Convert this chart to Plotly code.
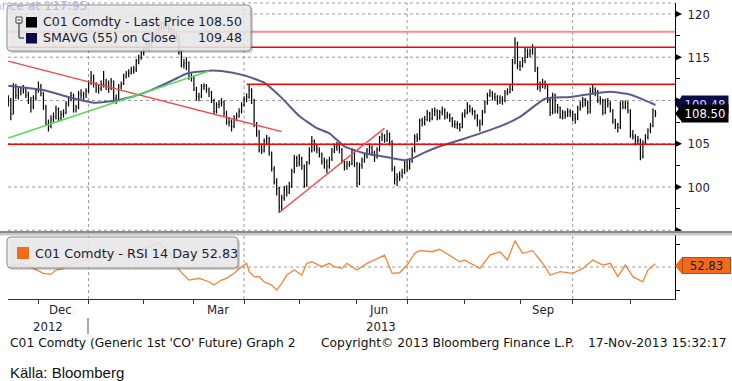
import plotly.graph_objects as go
import pandas as pd

# ---------------- data ----------------
HOLIDAYS = ["2012-12-25", "2013-01-01", "2013-03-29"]
bar_dates = [d.strftime("%Y-%m-%d") for d in pd.bdate_range("2012-11-15", "2013-11-15")
             if d.strftime("%Y-%m-%d") not in HOLIDAYS]

price_open = [
    109.6, 110.2, 108.4, 111.5, 110.6, 111.0, 111.3, 111.4, 110.6, 110.0,
    109.3, 110.3, 111.1, 111.6, 110.8, 109.2, 107.3, 107.0, 107.9, 108.1,
    109.0, 107.9, 108.4, 108.6, 109.6, 110.2, 110.6, 108.9, 109.2, 110.8,
    110.6, 110.7, 111.1, 112.0, 112.7, 111.9, 111.3, 111.4, 111.9, 111.8,
    112.0, 111.4, 112.2, 110.3, 110.0, 111.6, 111.9, 112.8, 113.1, 113.2,
    113.4, 113.6, 114.6, 115.0, 115.4, 116.0, 116.8, 116.2, 117.0, 117.6,
    117.9, 118.6, 118.4, 118.9, 118.6, 118.2, 117.9, 117.6, 117.4, 115.6,
    114.1, 114.3, 114.4, 112.7, 112.6, 111.3, 110.4, 110.5, 111.6, 111.7,
    111.3, 110.9, 110.0, 108.7, 109.5, 109.6, 109.8, 108.5, 107.5, 107.5,
    107.0, 107.9, 108.2, 108.7, 109.5, 110.1, 110.4, 111.2, 110.0, 107.2,
    106.3, 104.3, 104.2, 105.3, 105.6, 103.9, 102.1, 100.6, 99.8, 97.7,
    98.7, 99.7, 99.4, 100.1, 101.8, 103.3, 102.8, 103.3, 102.4, 100.2,
    102.8, 104.2, 105.3, 104.4, 104.3, 103.7, 103.0, 102.9, 102.4, 103.2,
    104.2, 104.6, 104.8, 104.3, 103.0, 102.4, 102.6, 102.7, 104.2, 102.6,
    100.4, 102.5, 103.1, 103.6, 104.2, 104.6, 104.0, 103.5, 104.3, 105.7,
    105.9, 105.5, 106.1, 105.2, 102.1, 100.9, 101.2, 101.3, 101.7, 102.8,
    102.2, 103.0, 104.2, 105.8, 105.6, 107.7, 107.4, 107.8, 108.5, 107.9,
    108.8, 108.8, 108.0, 108.6, 108.9, 108.1, 108.3, 107.9, 107.2, 107.2,
    107.2, 106.9, 108.3, 108.6, 109.3, 108.9, 108.7, 108.2, 107.4, 107.3,
    108.7, 109.8, 110.6, 110.9, 110.4, 110.4, 109.9, 110.3, 110.0, 110.9,
    111.0, 111.3, 114.4, 116.6, 114.0, 114.0, 114.6, 115.7, 115.4, 115.7,
    116.1, 113.7, 111.5, 111.8, 112.0, 111.7, 110.1, 108.6, 110.6, 108.8,
    109.2, 108.1, 108.6, 108.3, 108.7, 108.6, 108.4, 107.9, 109.1, 109.5,
    110.1, 109.7, 108.7, 111.1, 111.3, 111.0, 110.0, 110.0, 108.6, 109.9,
    109.6, 108.9, 107.6, 107.2, 106.9, 109.6, 109.3, 109.7, 108.8, 106.0,
    105.8, 105.3, 105.4, 103.5, 105.1, 105.8, 106.5, 107.1, 108.8]

price_high = [
    110.6, 110.3, 112.0, 111.9, 111.5, 111.6, 111.8, 111.6, 111.0, 110.4,
    110.6, 111.4, 112.2, 111.9, 111.0, 109.5, 107.8, 108.3, 108.6, 109.4,
    109.2, 108.8, 109.0, 109.9, 110.5, 111.0, 110.8, 109.5, 111.1, 111.3,
    111.0, 111.4, 112.3, 113.4, 113.0, 112.1, 111.9, 112.3, 113.4, 112.5,
    112.3, 112.6, 112.3, 110.7, 111.9, 112.2, 113.1, 113.4, 113.6, 113.9,
    114.0, 114.8, 115.3, 115.7, 116.3, 117.1, 117.0, 117.3, 117.9, 118.3,
    119.0, 119.1, 119.2, 119.1, 118.9, 118.5, 118.3, 118.0, 117.6, 115.9,
    114.8, 115.0, 114.5, 113.3, 112.9, 111.6, 110.9, 111.9, 112.0, 111.9,
    111.5, 111.1, 110.2, 109.8, 110.0, 110.3, 110.0, 108.8, 108.1, 107.8,
    108.3, 108.6, 109.1, 109.8, 110.5, 110.8, 111.8, 111.4, 110.2, 107.5,
    106.6, 105.0, 105.6, 106.0, 105.8, 104.1, 102.4, 101.0, 100.0, 99.1,
    100.1, 100.2, 100.6, 102.1, 103.7, 103.6, 103.8, 103.5, 102.6, 103.0,
    104.6, 105.9, 105.5, 104.9, 104.6, 104.0, 103.4, 103.2, 103.5, 104.5,
    105.0, 105.2, 105.1, 104.5, 103.2, 103.0, 103.0, 104.5, 104.4, 102.9,
    102.8, 103.4, 103.9, 104.5, 104.9, 104.8, 104.2, 104.6, 105.9, 106.3,
    106.1, 106.6, 106.3, 105.4, 102.4, 101.6, 101.8, 102.1, 103.1, 103.1,
    103.3, 104.6, 106.1, 106.2, 107.9, 108.0, 108.2, 108.9, 108.7, 109.1,
    109.2, 109.0, 108.9, 109.3, 109.1, 108.7, 108.5, 108.1, 107.7, 107.6,
    107.4, 108.6, 109.0, 109.8, 109.5, 109.2, 108.9, 108.4, 107.8, 108.9,
    110.0, 110.9, 111.3, 111.1, 110.9, 110.6, 110.6, 110.5, 111.2, 111.4,
    111.8, 114.8, 117.3, 116.8, 114.6, 115.0, 116.1, 116.0, 116.0, 116.5,
    116.2, 113.9, 112.2, 112.5, 112.3, 111.9, 110.3, 110.9, 110.8, 109.6,
    109.3, 108.9, 108.8, 109.1, 109.0, 108.8, 108.5, 109.4, 109.9, 110.4,
    110.3, 110.0, 111.5, 111.8, 111.5, 111.2, 110.5, 110.2, 110.2, 110.3,
    109.9, 109.0, 107.9, 107.4, 109.9, 110.0, 110.0, 109.9, 109.0, 106.6,
    106.1, 105.9, 105.6, 105.4, 106.1, 106.8, 107.4, 109.1, 108.9]

price_low = [
    109.3, 107.7, 108.4, 110.2, 110.1, 110.6, 110.8, 110.3, 109.6, 108.6,
    109.0, 110.0, 110.9, 110.5, 108.9, 107.1, 106.4, 106.8, 107.5, 107.8,
    107.6, 107.6, 108.0, 108.4, 109.3, 109.9, 108.6, 108.6, 109.0, 110.2,
    109.9, 110.3, 110.9, 111.8, 111.5, 110.9, 110.8, 111.1, 111.5, 111.2,
    110.9, 111.2, 110.0, 109.6, 109.9, 111.3, 111.8, 112.5, 112.7, 113.0,
    113.1, 113.3, 114.2, 114.7, 115.2, 115.8, 115.7, 116.0, 116.7, 117.2,
    117.6, 118.0, 118.2, 118.2, 117.8, 117.5, 117.2, 116.9, 115.3, 113.8,
    113.7, 113.5, 112.4, 112.2, 111.1, 110.0, 109.9, 110.3, 111.2, 110.9,
    110.4, 109.7, 108.4, 108.5, 109.1, 109.3, 108.2, 107.2, 107.0, 106.4,
    106.8, 107.6, 108.0, 108.5, 109.3, 109.8, 110.2, 109.6, 106.9, 105.8,
    104.0, 103.8, 104.0, 104.9, 103.6, 101.8, 100.3, 99.0, 97.0, 97.2,
    98.4, 98.9, 99.2, 99.9, 101.6, 102.3, 102.4, 102.0, 99.9, 100.0,
    102.6, 104.0, 104.1, 103.9, 103.4, 102.6, 102.1, 101.6, 102.1, 103.0,
    103.9, 104.2, 103.9, 102.7, 101.9, 102.0, 102.3, 102.5, 102.3, 100.0,
    100.2, 102.1, 102.8, 103.3, 103.8, 103.6, 102.9, 103.3, 104.1, 105.3,
    105.1, 105.2, 104.8, 101.8, 100.3, 100.1, 100.7, 101.0, 101.5, 101.8,
    102.0, 102.8, 104.0, 105.2, 105.4, 107.0, 107.1, 107.6, 107.5, 107.7,
    108.2, 107.7, 107.8, 108.3, 107.8, 107.9, 107.5, 106.9, 106.8, 106.7,
    106.4, 106.8, 108.0, 108.4, 108.6, 108.3, 107.8, 107.0, 106.4, 107.1,
    108.5, 109.5, 110.4, 110.0, 110.0, 109.5, 109.6, 109.5, 109.8, 110.6,
    110.8, 111.1, 114.2, 113.6, 113.4, 113.8, 114.3, 114.9, 115.0, 115.3,
    113.3, 111.2, 111.0, 111.4, 111.3, 109.7, 108.2, 108.4, 108.5, 108.5,
    107.9, 107.8, 107.9, 108.1, 108.1, 107.6, 107.3, 107.7, 108.8, 109.2,
    109.3, 108.4, 108.5, 110.7, 110.5, 109.7, 109.5, 108.3, 108.4, 109.2,
    108.6, 107.3, 106.7, 106.3, 106.7, 109.0, 109.0, 108.5, 105.7, 105.5,
    104.8, 104.9, 103.1, 103.3, 104.9, 105.5, 106.2, 106.9, 108.1]

price_close = [
    110.2, 108.4, 111.5, 110.6, 111.0, 111.3, 111.4, 110.6, 110.0, 109.3,
    110.3, 111.1, 111.6, 110.8, 109.2, 107.3, 107.0, 107.9, 108.1, 109.0,
    107.9, 108.4, 108.6, 109.6, 110.2, 110.6, 108.9, 109.2, 110.8, 110.6,
    110.7, 111.1, 112.0, 112.7, 111.9, 111.3, 111.4, 111.9, 111.8, 112.0,
    111.4, 112.2, 110.3, 110.0, 111.6, 111.9, 112.8, 113.1, 113.2, 113.4,
    113.6, 114.6, 115.0, 115.4, 116.0, 116.8, 116.2, 117.0, 117.6, 117.9,
    118.6, 118.4, 118.9, 118.6, 118.2, 117.9, 117.6, 117.4, 115.6, 114.1,
    114.3, 114.4, 112.7, 112.6, 111.3, 110.4, 110.5, 111.6, 111.7, 111.3,
    110.9, 110.0, 108.7, 109.5, 109.6, 109.8, 108.5, 107.5, 107.5, 107.0,
    107.9, 108.2, 108.7, 109.5, 110.1, 110.4, 111.2, 110.0, 107.2, 106.3,
    104.3, 104.2, 105.3, 105.6, 103.9, 102.1, 100.6, 99.8, 97.7, 98.7,
    99.7, 99.4, 100.1, 101.8, 103.3, 102.8, 103.3, 102.4, 100.2, 102.8,
    104.2, 105.3, 104.4, 104.3, 103.7, 103.0, 102.9, 102.4, 103.2, 104.2,
    104.6, 104.8, 104.3, 103.0, 102.4, 102.6, 102.7, 104.2, 102.6, 100.4,
    102.5, 103.1, 103.6, 104.2, 104.6, 104.0, 103.5, 104.3, 105.7, 105.9,
    105.5, 106.1, 105.2, 102.1, 100.9, 101.2, 101.3, 101.7, 102.8, 102.2,
    103.0, 104.2, 105.8, 105.6, 107.7, 107.4, 107.8, 108.5, 107.9, 108.8,
    108.8, 108.0, 108.6, 108.9, 108.1, 108.3, 107.9, 107.2, 107.2, 107.2,
    106.9, 108.3, 108.6, 109.3, 108.9, 108.7, 108.2, 107.4, 107.3, 108.7,
    109.8, 110.6, 110.9, 110.4, 110.4, 109.9, 110.3, 110.0, 110.9, 111.0,
    111.3, 114.4, 116.6, 114.0, 114.0, 114.6, 115.7, 115.4, 115.7, 116.1,
    113.7, 111.5, 111.8, 112.0, 111.7, 110.1, 108.6, 110.6, 108.8, 109.2,
    108.1, 108.6, 108.3, 108.7, 108.6, 108.4, 107.9, 109.1, 109.5, 110.1,
    109.7, 108.7, 111.1, 111.3, 111.0, 110.0, 110.0, 108.6, 109.9, 109.6,
    108.9, 107.6, 107.2, 106.9, 109.6, 109.3, 109.7, 108.8, 106.0, 105.8,
    105.3, 105.4, 103.5, 105.1, 105.8, 106.5, 107.1, 108.8, 108.5]

# SMAVG(55) at these bars
sma_bar = [0, 14, 24, 34, 41, 49, 57, 66, 71, 80, 85, 94, 102, 109, 116, 123, 128, 134, 142, 150,
           158, 161, 166, 171, 182, 196, 204, 214, 224, 232, 240, 247, 252, 258]
sma_value = [111.7, 111.2, 110.4, 109.75, 109.9, 110.4, 111.2, 112.4, 113.1, 113.45,
             113.4, 112.9, 112.06, 110.3, 108.2, 106.8, 106.2, 104.7, 103.9, 103.5,
             103.1, 103.3, 104.0, 104.6, 105.6, 107.0, 108.1, 110.2, 110.4, 110.75,
             111.0, 110.75, 110.25, 109.48]

# RSI 14 at these bars
rsi_bar = [0, 5, 10, 14, 17, 19, 22, 24, 30, 37, 41, 48, 53, 60, 64, 67, 70, 72, 76, 80,
           82, 85, 87, 90, 93, 95, 96, 98, 100, 102, 105, 107, 109, 111, 114, 117, 119, 121, 125, 128,
           130, 133, 135, 139, 143, 147, 150, 153, 156, 159, 162, 164, 169, 172, 177, 180, 182, 188, 192, 196,
           199, 202, 205, 209, 212, 214, 216, 220, 225, 229, 233, 237, 240, 243, 246, 249, 253, 255, 258]
rsi_value = [50.3, 53.2, 48.8, 44.5, 43.6, 47.4, 48.8, 51.7, 56.1, 60.4,
             61.9, 60.4, 64.8, 70.6, 63.3, 50.3, 43.0, 38.7, 40.2, 37.2,
             34.3, 38.7, 40.2, 44.5, 50.3, 53.2, 45.9, 41.6, 41.6, 37.2,
             34.3, 30.0, 35.8, 43.0, 47.4, 43.0, 53.2, 54.6, 50.3, 53.2,
             50.3, 48.8, 53.2, 47.4, 53.2, 57.6, 60.4, 44.5, 45.0, 51.7,
             61.9, 64.2, 63.3, 65.4, 59.0, 54.6, 56.0, 48.8, 60.4, 63.3,
             56.1, 72.9, 61.9, 64.2, 56.1, 50.3, 43.0, 45.9, 44.5, 48.8,
             56.1, 51.7, 53.2, 41.6, 51.7, 41.6, 37.2, 47.4, 52.83]

full_levels = [116.15, 104.95]
top_level = 117.95
partial_level = 111.87
partial_level_start_bar = 95
trend_down = [(0, 114.55), (109, 106.4)]
trend_green = [(0, 105.66), (80, 113.4)]
trend_up = [(108, 97.05), (150, 106.8)]

main_ticks = [100, 105, 110, 115, 120]
main_grid = [95, 100, 105, 110, 115, 120]
main_minor = [97.5, 102.5, 107.5, 112.5, 117.5]
month_starts = ["2012-12-03", "2013-01-02", "2013-02-01", "2013-03-01", "2013-04-01", "2013-05-01",
                "2013-06-03", "2013-07-01", "2013-08-01", "2013-09-02", "2013-10-01", "2013-11-01"]
quarter_starts = ["2013-01-02", "2013-04-01", "2013-07-01", "2013-10-01"]
month_labels = [("2012-12-14", "Dec"), ("2013-03-14 12:00", "Mar"), ("2013-06-13 12:00", "Jun"), ("2013-09-13", "Sep")]

assert len(price_open) == len(price_high) == len(price_low) == len(price_close) == len(bar_dates)

# ---------------- geometry helpers ----------------
PL, PR, PT, PB = 8, 675, 3, 299
def X(px): return (px - PL) / (PR - PL)
def Y(py): return (PB - py) / (PB - PT)

FONT = "DejaVu Sans Condensed, DejaVu Sans, sans-serif"
FONT_W = "DejaVu Sans, sans-serif"
TXT = "#1c1c34"
X_RANGE = ["2012-11-14 21:00", "2013-11-26 19:00"]
RB = [dict(bounds=["sat", "mon"]), dict(values=HOLIDAYS)]

fig = go.Figure()
fig.add_trace(go.Ohlc(x=bar_dates, open=price_open, high=price_high, low=price_low, close=price_close,
                      increasing=dict(line=dict(color="#000000", width=1.2)),
                      decreasing=dict(line=dict(color="#000000", width=1.2)),
                      tickwidth=0.3, xaxis="x", yaxis="y", showlegend=False, hoverinfo="skip"))
fig.add_trace(go.Scatter(x=[bar_dates[i] for i in sma_bar], y=sma_value, mode="lines",
                         line=dict(color="#5a5a8e", width=2, shape="spline", smoothing=0.5),
                         xaxis="x", yaxis="y", showlegend=False, hoverinfo="skip"))
fig.add_trace(go.Scatter(x=[bar_dates[i] for i in rsi_bar], y=rsi_value, mode="lines",
                         line=dict(color="#f0863a", width=1.3),
                         xaxis="x2", yaxis="y2", showlegend=False, hoverinfo="skip"))

shapes = []
def ln(x0, y0, x1, y1, xref, yref, color, width, dash="solid", layer="above"):
    shapes.append(dict(type="line", x0=x0, y0=y0, x1=x1, y1=y1, xref=xref, yref=yref,
                       line=dict(color=color, width=width, dash=dash), layer=layer))

def path(d, fill, line_color=None, line_width=0, xref="paper", yref="paper", layer="above"):
    shapes.append(dict(type="path", path=d, xref=xref, yref=yref, fillcolor=fill,
                       line=dict(color=line_color or fill, width=line_width), layer=layer))

def rect_px(x0, y0, x1, y1, fill, line_color=None, line_width=0):
    shapes.append(dict(type="rect", x0=X(x0), x1=X(x1), y0=Y(y1), y1=Y(y0), xref="paper", yref="paper",
                       fillcolor=fill, line=dict(color=line_color or fill, width=line_width), layer="above"))

def rrect(x0, y0, x1, y1, r):
    return (f"M {X(x0+r)},{Y(y0)} L {X(x1-r)},{Y(y0)} Q {X(x1)},{Y(y0)} {X(x1)},{Y(y0+r)} "
            f"L {X(x1)},{Y(y1-r)} Q {X(x1)},{Y(y1)} {X(x1-r)},{Y(y1)} L {X(x0+r)},{Y(y1)} "
            f"Q {X(x0)},{Y(y1)} {X(x0)},{Y(y1-r)} L {X(x0)},{Y(y0+r)} Q {X(x0)},{Y(y0)} {X(x0+r)},{Y(y0)} Z")

GRID = "#9a9a9a"
for v in main_grid:
    ln(0, v, 1, v, "paper", "y", GRID, 1, "dot", "below")
ln(0, 1, 1, 1, "paper", "paper", GRID, 1, "dot", "below")
ln(0, 50, 1, 50, "paper", "y2", GRID, 1, "dot", "below")
for d in quarter_starts:
    ln(d, 0, d, 1, "x", "paper", GRID, 1, "dot", "below")

# level lines and trend lines
ln(0, top_level, 1, top_level, "paper", "y", "#ff8a8a", 2)
for v in full_levels:
    ln(0, v, 1, v, "paper", "y", "#ff0000", 1.5)
ln(bar_dates[partial_level_start_bar], partial_level, X_RANGE[1], partial_level, "x", "y", "#ff0000", 1.5)
for (a, b), col in [(trend_down, "#f24a4a"), (trend_green, "#55dd55"), (trend_up, "#f25050")]:
    ln(bar_dates[a[0]], a[1], bar_dates[b[0]], b[1], "x", "y", col, 1.5)

# panel separator
rect_px(0, 231, 732, 233, "#8a8a8a")
rect_px(0, 233, 732, 235.5, "#c6c6c6")

# legend boxes
path(rrect(9, 7, 253, 53, 4), "rgba(0,0,0,0.18)")
path(rrect(7, 5, 251, 51, 4), "rgba(236,236,236,0.86)", "#8c8c8c", 1)
path(rrect(9, 239, 240, 270, 4), "rgba(0,0,0,0.18)")
path(rrect(7, 237, 238, 268, 4), "rgba(236,236,236,0.86)", "#8c8c8c", 1)
rect_px(16, 17, 22, 23, "#ffffff", "#404040", 1)
ln(X(17.5), Y(20), X(20.5), Y(20), "paper", "paper", "#202020", 1)
ln(X(19), Y(23), X(19), Y(38), "paper", "paper", "#202020", 1)
ln(X(19), Y(38), X(24), Y(38), "paper", "paper", "#202020", 1)
rect_px(26, 17, 37, 27.5, "#000000")
rect_px(26, 33, 37, 43.5, "#0b0b4a")
rect_px(17, 247, 29, 259, "#f26a1b")

# arrow ticks on the price axis
dv = 3.5 / 8.65
for v in main_grid:
    path(f"M 1,{v+dv} L {X(682)},{v} L 1,{v-dv} Z", "#000000", yref="y")

# pointer tips for value boxes
for yc, col in [(104.5, "#0b0b4a"), (113.5, "#000000"), (265.7, "#f26a1b")]:
    path(f"M {X(675)},{Y(yc)} L {X(682)},{Y(yc-8.5)} L {X(682)},{Y(yc+8.5)} Z", col)

ann = []
def txt(x, y, s, size=12, color=TXT, xanchor="left", xref="paper", family=FONT, **kw):
    ann.append(dict(x=x, y=y, text=s, xref=xref, yref="paper", xanchor=xanchor, yanchor="middle",
                    showarrow=False, font=dict(family=family, size=size, color=color), **kw))

txt(X(89), Y(6), "Resistance at 117.95", color="#b4b4e0", xanchor="right", family=FONT_W, size=12.4)
txt(X(41), Y(22), "C01 Comdty - Last Price", family=FONT_W, size=12.6)
txt(X(244), Y(22), "108.50", xanchor="right", family=FONT_W, size=12.6)
txt(X(41), Y(38), "SMAVG (55) on Close", family=FONT_W, size=12.6)
txt(X(244), Y(38), "109.48", xanchor="right", family=FONT_W, size=12.6)
txt(X(33), Y(253.5), "C01 Comdty - RSI 14 Day 52.83", family=FONT_W, size=12.8)

# value boxes (black one drawn after the navy one so it overlaps it)
txt(X(704.5), Y(104.5), "109.48", size=13, color="#d8d8ff", xanchor="center",
    bgcolor="#0b0b4a", width=46, height=17, borderpad=0)
txt(X(704.5), Y(113.5), "108.50", size=13, color="#ffffff", xanchor="center",
    bgcolor="#000000", width=46, height=17, borderpad=0)
txt(X(706), Y(265.7), "52.83", size=13, color="#1a1a1a", xanchor="center",
    bgcolor="#f26a1b", bordercolor="#b84a10", borderwidth=1, width=47, height=15, borderpad=0)

for d, s in month_labels:
    txt(d, Y(310), s, size=13, xanchor="center", xref="x2")
txt(X(48), Y(326), "2012", size=13, xanchor="center")
txt(X(381), Y(326), "2013", size=13, xanchor="center")
ln(X(88), Y(318), X(88), Y(334), "paper", "paper", "#555555", 1)

txt(X(8), Y(343), "C01 Comdty (Generic 1st 'CO' Future) Graph 2", size=12.3, color="#111111", family=FONT_W)
txt(X(319), Y(343), "Copyright\u00a9 2013 Bloomberg Finance L.P.", size=12.3, color="#111111", family=FONT_W)
txt(X(729), Y(343), "17-Nov-2013 15:32:17", size=12.3, color="#111111", xanchor="right", family=FONT_W)
txt(X(8), Y(372), "K\u00e4lla: Bloomberg", size=15, color="#111111", family="Liberation Sans, Arial, sans-serif")

fig.update_layout(
    width=732, height=381, autosize=False,
    margin=dict(l=PL, r=732 - PR, t=PT, b=381 - PB),
    paper_bgcolor="#ffffff", plot_bgcolor="#ffffff",
    showlegend=False, hovermode=False,
    shapes=shapes, annotations=ann,
    xaxis=dict(domain=[0, 1], anchor="y", type="date", range=X_RANGE, rangebreaks=RB,
               showticklabels=False, showgrid=False, zeroline=False, ticks="",
               rangeslider=dict(visible=False)),
    xaxis2=dict(domain=[0, 1], anchor="y2", type="date", range=X_RANGE, rangebreaks=RB, matches="x",
                showticklabels=False, showgrid=False, zeroline=False,
                tickmode="array", tickvals=month_starts, ticks="outside", ticklen=4, tickcolor="#333333",
                showline=True, linecolor="#333333", linewidth=1),
    yaxis=dict(domain=[Y(231), 1], anchor="x", side="right", range=[94.91, 121.27],
               showgrid=False, zeroline=False, showline=True, linecolor="#000000", linewidth=1,
               tickmode="array", tickvals=main_ticks, ticks="", ticklabelstandoff=9,
               tickfont=dict(family=FONT, size=13, color=TXT),
               minor=dict(tickmode="array", tickvals=main_minor, ticks="outside", ticklen=4,
                          tickcolor="#000000", tickwidth=1)),
    yaxis2=dict(domain=[0, Y(234)], anchor="x2", side="right", range=[22.2, 78.7],
                showgrid=False, zeroline=False, showline=True, linecolor="#000000", linewidth=1,
                tickmode="array", tickvals=[30, 70], ticks="outside", ticklen=4, tickcolor="#000000",
                showticklabels=False),
)

fig.write_html("out.html", config={"displayModeBar": False},
               post_script="document.body.style.margin='0';document.body.style.overflow='hidden';")
